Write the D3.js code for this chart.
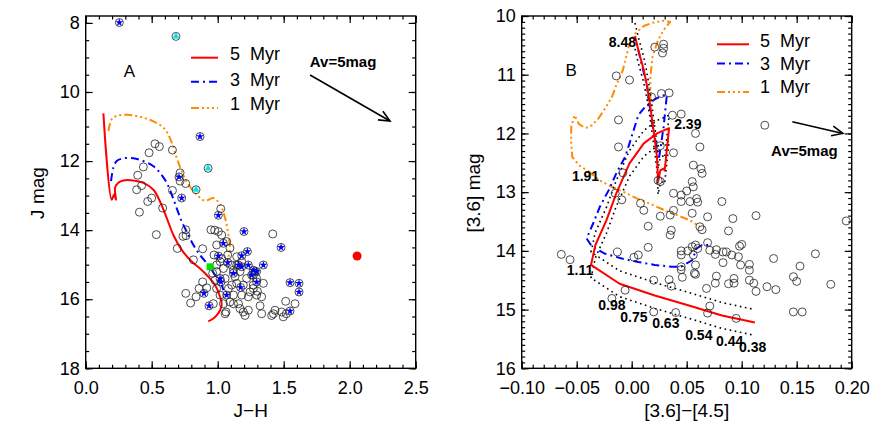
<!DOCTYPE html>
<html>
<head>
<meta charset="utf-8">
<script src="https://cdn.jsdelivr.net/npm/d3@7"></script>
<style>
  body { margin: 0; background: #fff; }
  svg { display: block; font-family: "Liberation Sans", Arial, sans-serif; }
</style>
</head>
<body>
<svg id="chart" width="872" height="436"></svg>
<script>
// ---- Panel A: J vs J-H ----
const xTicksA = [0, 0.5, 1.0, 1.5, 2.0, 2.5]
const yTicksA = [8, 10, 12, 14, 16, 18]

const iso5A = [[0.134,10.62],[0.197,13.12],[0.215,12.97],[0.230,13.12],[0.222,12.78],[0.247,12.63],[0.285,12.56],[0.361,12.56],[0.437,12.63],[0.513,12.83],[0.563,13.17],[0.614,13.65],[0.664,14.14],[0.727,14.57],[0.803,14.91],[0.866,15.11],[0.929,15.35],[0.980,15.59],[1.018,15.93],[1.030,16.13],[1.018,16.32],[0.992,16.47],[0.967,16.56],[0.929,16.64]]
const iso3A = [[0.192,12.58],[0.210,12.19],[0.235,12.00],[0.285,11.92],[0.361,11.92],[0.437,12.00],[0.513,12.15],[0.563,12.34],[0.614,12.63],[0.652,12.97],[0.689,13.36],[0.727,13.75],[0.765,14.04],[0.816,14.43],[0.866,14.72],[0.929,15.01],[0.980,15.30],[1.030,15.59],[1.043,15.74]]
const iso1A = [[0.172,11.13],[0.197,10.79],[0.235,10.69],[0.311,10.66],[0.412,10.72],[0.513,10.85],[0.601,11.08],[0.652,11.47],[0.689,11.90],[0.727,12.29],[0.778,12.68],[0.841,12.97],[0.904,13.15],[0.967,13.07],[1.018,13.26],[1.056,13.65],[1.081,14.14],[1.093,14.52],[1.080,14.80],[1.060,15.01]]

const openA = [[0.525,11.50],[0.558,11.58],[0.480,11.76],[0.657,11.68],[0.394,12.41],[0.437,12.17],[0.424,12.71],[0.386,12.83],[0.470,13.17],[0.500,13.07],[0.407,13.48],[0.583,13.36],[0.535,14.13],[0.657,12.85],[0.715,12.34],[0.715,12.58],[0.758,12.65],[0.694,14.53],[0.758,13.99],[0.737,14.18],[0.816,14.86],[0.886,14.54],[0.886,15.50],[0.917,15.67],[0.859,15.69],[0.758,15.83],[0.795,16.11],[0.836,15.93],[1.023,13.38],[0.949,13.99],[0.977,14.00],[1.005,14.04],[1.030,14.14],[0.992,14.43],[1.417,14.11],[0.962,15.25],[0.992,15.01],[1.030,14.82],[1.043,15.11],[1.056,15.40],[1.081,15.69],[1.093,16.08],[1.063,16.37],[1.119,15.88],[1.157,16.13],[1.169,16.27],[1.194,16.37],[1.207,16.47],[1.232,16.32],[1.245,15.79],[1.232,15.93],[1.270,15.69],[1.295,15.88],[1.333,15.93],[1.346,15.54],[1.295,15.40],[1.270,15.30],[1.219,15.40],[1.194,15.59],[1.144,15.54],[1.131,15.35],[1.169,15.20],[1.106,15.01],[1.119,15.16],[1.068,14.33],[1.093,14.52],[1.076,14.72],[1.144,14.77],[1.182,14.91],[1.321,16.19],[1.333,16.42],[1.409,16.47],[1.422,16.42],[1.434,16.32],[1.485,16.37],[1.497,16.51],[1.520,16.42],[1.515,16.06],[1.586,16.13],[0.967,16.13],[1.056,16.42],[1.018,15.88],[0.992,15.69],[0.980,15.45],[1.270,15.59],[0.760,14.16],[0.972,14.72],[1.018,14.91],[0.992,15.20],[1.144,15.01],[1.283,15.20],[1.106,15.59],[1.182,15.88],[1.301,15.77],[1.043,16.13],[1.119,16.13]]
const ysoA = [[0.255,7.99],[0.866,11.29],[0.707,12.46],[0.727,13.07],[1.005,13.57],[1.199,14.04],[1.480,14.50],[1.043,14.38],[1.005,14.75],[1.182,14.74],[1.225,14.62],[1.157,15.01],[1.182,15.06],[1.232,15.01],[1.270,15.16],[1.346,15.01],[1.295,15.20],[1.257,15.30],[1.295,15.50],[1.119,15.25],[1.018,15.40],[1.025,15.50],[1.068,15.88],[1.174,15.66],[0.896,15.83],[0.934,16.19],[1.548,15.52],[1.616,15.54],[1.616,15.79],[1.548,16.34],[1.076,14.94]]
const cyanA = [[0.684,8.39],[0.927,12.21],[0.836,12.83]]
const greenA = [[0.942,15.06]]
const redA = [[2.056,14.75]]
const avArrowA = [[1.70,9.51],[2.305,10.84]]

// ---- Panel B: [3.6] vs [3.6]-[4.5] ----
const xTicksB = [-0.10, -0.05, 0.00, 0.05, 0.10, 0.15, 0.20]
const yTicksB = [10, 11, 12, 13, 14, 15, 16]

const iso5B = [[0.003,10.34],[0.006,10.58],[0.011,10.92],[0.014,11.20],[0.017,11.55],[0.019,11.83],[0.021,12.11],[0.023,12.40],[0.024,12.82],[0.026,12.63],[0.029,12.60],[0.030,12.63],[0.034,11.91],[0.023,12.00],[0.011,12.17],[-0.002,12.51],[-0.014,13.02],[-0.023,13.48],[-0.033,13.90],[-0.037,14.24],[-0.011,14.56],[0.021,14.76],[0.052,14.93],[0.082,15.10],[0.112,15.22]]
const iso5BUpper = [[0.003,10.12],[0.006,10.36],[0.011,10.70],[0.014,10.98],[0.017,11.33],[0.019,11.61],[0.021,11.89],[0.023,12.18],[0.024,12.60],[0.026,12.41],[0.029,12.38],[0.030,12.41],[0.034,11.69],[0.023,11.78],[0.011,11.95],[-0.002,12.29],[-0.014,12.80],[-0.023,13.26],[-0.033,13.68],[-0.037,14.02],[-0.011,14.34],[0.021,14.54],[0.052,14.71],[0.082,14.88],[0.112,15.00]]
const iso5BLower = [[0.003,10.56],[0.006,10.80],[0.011,11.14],[0.014,11.42],[0.017,11.77],[0.019,12.05],[0.021,12.33],[0.023,12.62],[0.024,13.04],[0.026,12.85],[0.029,12.82],[0.030,12.85],[0.034,12.13],[0.023,12.22],[0.011,12.39],[-0.002,12.73],[-0.014,13.24],[-0.023,13.70],[-0.033,14.12],[-0.037,14.46],[-0.011,14.78],[0.021,14.98],[0.052,15.15],[0.082,15.32],[0.112,15.44]]
const iso3B = [[0.006,10.58],[0.014,11.20],[0.018,11.77],[0.022,12.17],[0.025,12.40],[0.029,11.89],[0.032,11.34],[0.027,11.36],[0.020,11.43],[0.012,11.55],[0.006,11.69],[-0.002,12.17],[-0.006,12.40],[-0.014,12.68],[-0.021,12.97],[-0.029,13.25],[-0.035,13.53],[-0.041,13.79],[-0.036,13.93],[-0.024,14.05],[-0.009,14.13],[0.006,14.19],[0.021,14.24],[0.036,14.27],[0.045,14.27],[0.055,14.16],[0.059,13.96],[0.064,13.90],[0.073,13.90]]
const iso1B = [[0.017,11.43],[0.017,11.03],[0.019,10.69],[0.024,10.41],[0.029,10.24],[0.035,10.10],[0.029,10.08],[0.020,10.11],[0.011,10.17],[0.003,10.30],[-0.002,10.47],[-0.005,10.69],[-0.008,10.92],[-0.014,11.18],[-0.018,11.38],[-0.024,11.57],[-0.030,11.74],[-0.036,11.86],[-0.042,11.91],[-0.048,11.84],[-0.052,11.69],[-0.055,11.89],[-0.055,12.17],[-0.054,12.40],[-0.048,12.54],[-0.039,12.65],[-0.029,12.80],[-0.018,12.91],[-0.008,12.99],[0.005,13.11],[0.017,13.20],[0.029,13.30],[0.041,13.39],[0.053,13.48],[0.062,13.59]]

const openB = [[-0.014,11.02],[-0.002,11.09],[-0.012,11.77],[-0.012,12.23],[-0.008,12.67],[-0.015,13.02],[-0.009,13.13],[0.008,13.19],[0.011,13.31],[0.015,13.58],[0.026,13.41],[0.038,13.02],[0.038,13.31],[0.035,13.39],[0.036,13.65],[0.035,13.73],[0.021,10.53],[0.029,10.48],[0.029,10.55],[0.028,10.63],[0.027,11.32],[0.034,11.31],[0.018,11.38],[0.037,11.69],[0.045,11.67],[0.038,12.33],[0.026,12.21],[0.024,12.80],[0.026,12.82],[0.121,11.86],[0.058,12.00],[0.062,12.23],[0.056,12.54],[0.063,12.60],[0.064,12.68],[0.055,12.82],[0.056,12.91],[0.050,12.98],[0.045,13.05],[0.045,13.16],[0.053,13.16],[0.059,13.11],[0.060,13.17],[0.055,13.36],[0.069,13.42],[0.062,13.59],[0.064,13.64],[0.082,13.16],[0.092,13.45],[0.088,13.66],[0.113,13.40],[0.195,13.49],[0.069,13.86],[0.071,13.99],[0.076,14.06],[0.077,13.98],[0.083,14.02],[0.086,14.02],[0.091,14.07],[0.098,13.92],[0.100,13.89],[0.097,14.10],[0.099,14.24],[0.107,14.23],[0.107,14.33],[0.083,14.20],[0.077,14.43],[0.076,14.55],[0.088,14.56],[0.093,14.47],[0.093,14.55],[0.107,14.50],[0.111,14.55],[0.113,14.69],[0.123,14.61],[0.131,14.66],[0.129,14.13],[0.167,14.05],[0.147,14.44],[0.150,14.52],[0.153,14.26],[0.181,14.57],[0.147,15.04],[0.155,15.04],[0.095,15.15],[0.071,14.94],[0.069,15.06],[0.068,14.64],[0.055,13.93],[0.056,14.07],[0.045,14.00],[0.045,14.07],[0.051,14.00],[0.058,13.90],[0.060,13.96],[0.058,14.24],[0.057,14.38],[0.058,14.40],[0.045,14.27],[0.045,14.32],[0.046,14.45],[0.034,14.49],[0.036,14.60],[0.020,14.50],[0.020,15.04],[0.040,15.05],[-0.006,14.67],[-0.018,14.81],[-0.013,14.02],[0.002,14.11],[0.006,14.07],[0.015,13.94],[-0.064,14.06],[-0.056,14.15]]
const massLabelsB = ["8.48", "2.39", "1.91", "1.11", "0.98", "0.75", "0.63", "0.54", "0.44", "0.38"]
const massPosB = [[-0.0085,10.44],[0.051,11.84],[-0.042,12.73],[-0.047,14.33],[-0.018,14.93],[0.002,15.12],[0.031,15.23],[0.061,15.44],[0.089,15.53],[0.110,15.64]]
const avArrowB = [[0.146,11.80],[0.192,12.00]]

const legendLabels = ["5  Myr", "3  Myr", "1  Myr"]

// ---- styles ----
const RED = "#ff0000", BLUE = "#0000ff", ORANGE = "#ff8c00"
const DASH_3 = "8,4,2,4"
const DASH_1 = "8,3,2,3,2,3,2,3"

const svg = d3.select("#chart")

svg.append("defs").append("marker")
  .attr("id", "arrow")
  .attr("markerUnits", "userSpaceOnUse")
  .attr("markerWidth", 24).attr("markerHeight", 24)
  .attr("viewBox", "-12 -12 24 24")
  .attr("refX", 0).attr("refY", 0)
  .attr("orient", "auto")
  .append("path")
  .attr("d", "M-11,-5 L0,0 L-11,5")
  .attr("fill", "none").attr("stroke", "#000").attr("stroke-width", 1.6)

function styleAxis(axis) {
  axis.select(".domain").remove()
  axis.attr("font-family", null).attr("font-size", null)
  axis.selectAll("line").attr("stroke", "#000").attr("stroke-width", 1.2)
  axis.selectAll("text").attr("font-size", 18).attr("fill", "#000")
}

function panel(opt) {
  const x = d3.scaleLinear().domain(opt.xDomain).range([opt.x0, opt.x1])
  const y = d3.scaleLinear().domain(opt.yDomain).range([opt.y0, opt.y1])
  const g = svg.append("g")

  g.append("g").attr("transform", `translate(0,${opt.y1})`)
    .call(d3.axisBottom(x).tickValues(opt.xTicks).tickSize(-7).tickPadding(13).tickFormat(opt.xFormat)).call(styleAxis)
  g.append("g").attr("transform", `translate(0,${opt.y1})`)
    .call(d3.axisBottom(x).tickValues(opt.xMinor).tickSize(-3.5).tickFormat("")).call(styleAxis)
  g.append("g").attr("transform", `translate(0,${opt.y0})`)
    .call(d3.axisTop(x).tickValues(opt.xTicks).tickSize(-7).tickFormat("")).call(styleAxis)
  g.append("g").attr("transform", `translate(0,${opt.y0})`)
    .call(d3.axisTop(x).tickValues(opt.xMinor).tickSize(-3.5).tickFormat("")).call(styleAxis)
  g.append("g").attr("transform", `translate(${opt.x0},0)`)
    .call(d3.axisLeft(y).tickValues(opt.yTicks).tickSize(-7).tickPadding(6).tickFormat(d3.format("d"))).call(styleAxis)
  g.append("g").attr("transform", `translate(${opt.x0},0)`)
    .call(d3.axisLeft(y).tickValues(opt.yMinor).tickSize(-3.5).tickFormat("")).call(styleAxis)
  g.append("g").attr("transform", `translate(${opt.x1},0)`)
    .call(d3.axisRight(y).tickValues(opt.yTicks).tickSize(-7).tickFormat("")).call(styleAxis)
  g.append("g").attr("transform", `translate(${opt.x1},0)`)
    .call(d3.axisRight(y).tickValues(opt.yMinor).tickSize(-3.5).tickFormat("")).call(styleAxis)

  g.append("rect")
    .attr("x", opt.x0).attr("y", opt.y0)
    .attr("width", opt.x1 - opt.x0).attr("height", opt.y1 - opt.y0)
    .attr("fill", "none").attr("stroke", "#000").attr("stroke-width", 1.4)

  g.append("text")
    .attr("x", (opt.x0 + opt.x1) / 2).attr("y", 410).attr("dy", "0.35em")
    .attr("text-anchor", "middle").attr("font-size", 19)
    .text(opt.xTitle)
  g.append("text")
    .attr("transform", `translate(${opt.yTitleX},193) rotate(-90)`)
    .attr("dy", "0.35em").attr("text-anchor", "middle").attr("font-size", 19)
    .text(opt.yTitle)

  const plot = g.append("g")
  return { g, plot, x, y }
}

function drawLine(p, data, color, dash, width, curve) {
  const line = d3.line().x((d) => p.x(d[0])).y((d) => p.y(d[1])).curve(curve || d3.curveLinear)
  p.plot.append("path")
    .datum(data)
    .attr("d", line)
    .attr("fill", "none")
    .attr("stroke", color)
    .attr("stroke-width", width)
    .attr("stroke-dasharray", dash)
    .attr("stroke-linejoin", "round")
}

function drawCircles(p, data) {
  p.plot.append("g").selectAll("circle")
    .data(data)
    .join("circle")
    .attr("cx", (d) => p.x(d[0]))
    .attr("cy", (d) => p.y(d[1]))
    .attr("r", 4)
    .attr("fill", "none")
    .attr("stroke", "#222")
    .attr("stroke-width", 0.8)
}

function drawSymbols(p, data, type, size, color) {
  p.plot.append("g").selectAll("path")
    .data(data)
    .join("path")
    .attr("transform", (d) => `translate(${p.x(d[0])},${p.y(d[1])})`)
    .attr("d", d3.symbol(type, size))
    .attr("fill", color)
}

function drawArrow(p, pts) {
  p.plot.append("line")
    .attr("x1", p.x(pts[0][0])).attr("y1", p.y(pts[0][1]))
    .attr("x2", p.x(pts[1][0])).attr("y2", p.y(pts[1][1]))
    .attr("stroke", "#000").attr("stroke-width", 1.6)
    .attr("marker-end", "url(#arrow)")
}

function drawLegend(g, lx, ly, textX, rowsY, textDy) {
  const styles = [[RED, null], [BLUE, DASH_3], [ORANGE, DASH_1]]
  legendLabels.forEach((label, i) => {
    g.append("line")
      .attr("x1", lx).attr("x2", ly)
      .attr("y1", rowsY[i]).attr("y2", rowsY[i])
      .attr("stroke", styles[i][0]).attr("stroke-width", 2)
      .attr("stroke-dasharray", styles[i][1])
    g.append("text")
      .attr("x", textX).attr("y", rowsY[i] - textDy[i]).attr("dy", "0.35em")
      .attr("font-size", 18)
      .style("white-space", "pre")
      .text(label)
  })
}

// ---- Panel A ----
const pA = panel({
  xDomain: [0, 2.5], yDomain: [7.8, 18],
  x0: 85.7, x1: 415.7, y0: 16, y1: 368.3,
  xTicks: xTicksA, xMinor: d3.range(0, 2.501, 0.1),
  yTicks: yTicksA, yMinor: d3.range(8, 18.01, 0.5),
  xFormat: d3.format(".1f"),
  xTitle: "J\u2212H", yTitle: "J mag", yTitleX: 37,
})

drawLine(pA, iso1A, ORANGE, DASH_1, 2, d3.curveCatmullRom)
drawLine(pA, iso3A, BLUE, DASH_3, 2, d3.curveCatmullRom)
drawLine(pA, iso5A, RED, null, 2, d3.curveCatmullRom)
drawCircles(pA, openA)
drawCircles(pA, ysoA)
drawSymbols(pA, ysoA, d3.symbolStar, 20, BLUE)
drawCircles(pA, cyanA)
drawSymbols(pA, cyanA, d3.symbolTriangle, 22, "#00e5ee")
drawSymbols(pA, greenA, d3.symbolSquare, 48, "#00dd00")
pA.plot.append("g").selectAll("circle")
  .data(redA)
  .join("circle")
  .attr("cx", (d) => pA.x(d[0])).attr("cy", (d) => pA.y(d[1]))
  .attr("r", 4.5).attr("fill", RED)
drawArrow(pA, avArrowA)
pA.g.append("text").attr("x", pA.x(1.95)).attr("y", pA.y(9.12)).attr("dy", "0.35em")
  .attr("text-anchor", "middle").attr("font-size", 15).attr("font-weight", "bold").text("Av=5mag")
pA.g.append("text").attr("x", pA.x(0.331)).attr("y", pA.y(9.38)).attr("dy", "0.35em")
  .attr("text-anchor", "middle").attr("font-size", 17).text("A")
drawLegend(pA.g, 191, 218, 230, [57.7, 81.7, 108], [4.5, 2.5, 4])

// ---- Panel B ----
const pB = panel({
  xDomain: [-0.10, 0.20], yDomain: [10, 16],
  x0: 521.7, x1: 851.7, y0: 16, y1: 368.3,
  xTicks: xTicksB, xMinor: d3.range(-0.10, 0.2001, 0.01),
  yTicks: yTicksB, yMinor: d3.range(10, 16.001, 0.1),
  xFormat: d3.format(".2f"),
  xTitle: "[3.6]\u2212[4.5]", yTitle: "[3.6] mag", yTitleX: 473,
})

drawLine(pB, iso1B, ORANGE, DASH_1, 2)
drawLine(pB, iso3B, BLUE, DASH_3, 2)
drawLine(pB, iso5BUpper, "#000", "1.6,3.6", 1.6)
drawLine(pB, iso5BLower, "#000", "1.6,3.6", 1.6)
drawLine(pB, iso5B, RED, null, 2)
drawCircles(pB, openB)
drawArrow(pB, avArrowB)
pB.g.append("text").attr("x", pB.x(0.157)).attr("y", pB.y(12.30)).attr("dy", "0.35em")
  .attr("text-anchor", "middle").attr("font-size", 15).attr("font-weight", "bold").text("Av=5mag")
pB.g.append("text").attr("x", pB.x(-0.055)).attr("y", pB.y(10.92)).attr("dy", "0.35em")
  .attr("text-anchor", "middle").attr("font-size", 17).text("B")
pB.g.append("g").selectAll("text")
  .data(massLabelsB)
  .join("text")
  .attr("x", (d, i) => pB.x(massPosB[i][0]))
  .attr("y", (d, i) => pB.y(massPosB[i][1]))
  .attr("dy", "0.35em")
  .attr("text-anchor", "middle")
  .attr("font-size", 14)
  .attr("font-weight", "bold")
  .text((d) => d)
drawLegend(pB.g, 717, 749, 760, [44.3, 63.5, 92], [3.6, 0, 5])
</script>
</body>
</html>
